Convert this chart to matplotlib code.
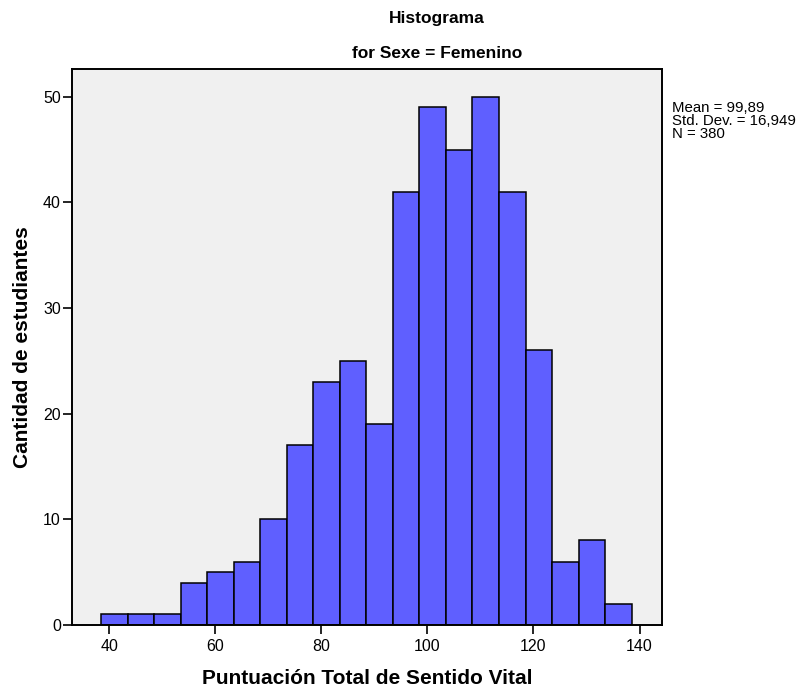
import numpy as np
import matplotlib
matplotlib.use("Agg")
import matplotlib.pyplot as plt

plt.rcParams['font.family'] = ['Liberation Sans', 'DejaVu Sans']

# datos del histograma
bin_start = 38.5
bin_width = 5.0
counts = [1, 1, 1, 4, 5, 6, 10, 17, 23, 25, 19, 41, 49, 45, 50, 41, 26, 6, 8, 2]
x_ticks = [40, 60, 80, 100, 120, 140]
y_ticks = [0, 10, 20, 30, 40, 50]
stats_text = "Mean = 99,89\nStd. Dev. = 16,949\nN = 380"

edges = bin_start + bin_width * np.arange(len(counts) + 1)

fig = plt.figure(figsize=(8.01, 6.90), dpi=100)
ax = fig.add_axes([72 / 801, 65 / 690, (662.3 - 72) / 801, (625 - 69.3) / 690])
ax.set_facecolor('#f0f0f0')

ax.hist(edges[:-1], bins=edges, weights=counts, color='#5f5fff',
        edgecolor='black', linewidth=1.1)

ax.set_xlim(32.96, 144.3)
ax.set_ylim(0, 52.6)
ax.set_xticks(x_ticks)
ax.set_yticks(y_ticks)
ax.tick_params(direction='out', length=6.5, width=1.2, labelsize=11.5, pad=1.5)
ax.tick_params(axis='x', pad=3.5)

for sp in ax.spines.values():
    sp.set_linewidth(1.4)

ax.set_xlabel('Puntuación Total de Sentido Vital', fontsize=15, fontweight='bold', labelpad=11)
ax.set_ylabel('Cantidad de estudiantes', fontsize=15, fontweight='bold', labelpad=8)

fig.text(437 / 801, 1 - 18 / 690, 'Histograma', ha='center', va='center',
         fontsize=12.5, fontweight='bold')
fig.text(437 / 801, 1 - 54 / 690, 'for Sexe = Femenino', ha='center', va='center',
         fontsize=12.5, fontweight='bold')

fig.text(672 / 801, 1 - 101 / 690, stats_text, ha='left', va='top',
         fontsize=10.8, linespacing=0.9)

fig.savefig('out.png', dpi=100)
